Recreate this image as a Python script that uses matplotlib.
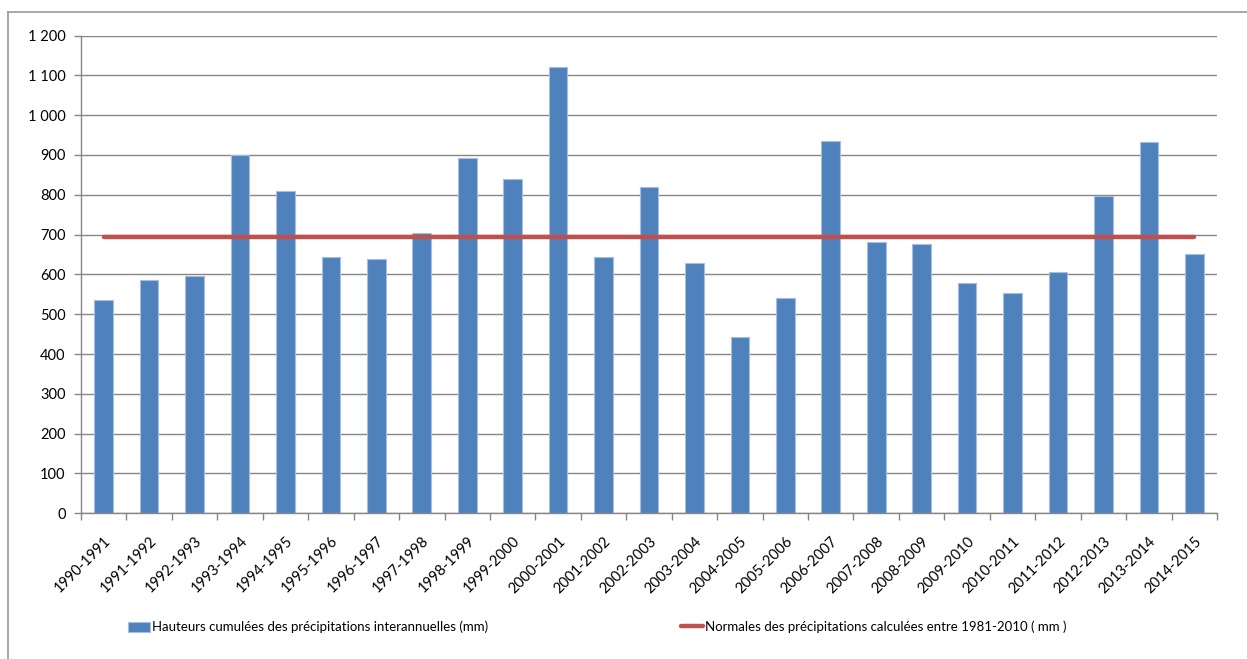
import matplotlib.pyplot as plt
from matplotlib.ticker import FuncFormatter, MultipleLocator
from matplotlib.lines import Line2D
import numpy as np

plt.rcParams['font.family'] = ['Lato', 'DejaVu Sans']

saisons = ['1990-1991', '1991-1992', '1992-1993', '1993-1994', '1994-1995',
           '1995-1996', '1996-1997', '1997-1998', '1998-1999', '1999-2000',
           '2000-2001', '2001-2002', '2002-2003', '2003-2004', '2004-2005',
           '2005-2006', '2006-2007', '2007-2008', '2008-2009', '2009-2010',
           '2010-2011', '2011-2012', '2012-2013', '2013-2014', '2014-2015']
hauteurs = [536, 586, 596, 900, 810, 644, 639, 705, 892, 839,
            1120, 643, 819, 628, 443, 541, 934, 682, 677, 579,
            553, 606, 796, 932, 652]
normale = [695] * len(saisons)

blue = '#4F81BD'
red = '#C0504D'
grey = '#868686'

fig = plt.figure(figsize=(12.47, 6.59), dpi=100)
ax = fig.add_axes([81 / 1247, 1 - 513.2 / 659, (1217 - 81) / 1247, (513.2 - 35.6) / 659])

x = np.arange(len(saisons))
barres = ax.bar(x, hauteurs, width=0.41, color=blue, edgecolor='#A7BFDE', linewidth=0.8, zorder=2)
ligne, = ax.plot(x, normale, color=red, linewidth=3.2, solid_capstyle='round', zorder=3)

ax.set_xlim(-0.5, len(saisons) - 0.5)
ax.set_ylim(0, 1200)
ax.yaxis.set_major_locator(MultipleLocator(100))
ax.yaxis.set_major_formatter(FuncFormatter(lambda v, p: f'{int(v):,}'.replace(',', ' ')))
ax.grid(axis='y', color=grey, linewidth=1.0, zorder=0)
ax.set_axisbelow(True)

ax.set_xticks(x)
ax.set_xticklabels(saisons, rotation=45, ha='right', rotation_mode='anchor')
ax.set_xticks(np.arange(-0.5, len(saisons)), minor=True)
ax.tick_params(axis='x', which='major', length=0, pad=15, labelsize=10.5)
ax.tick_params(axis='x', which='minor', length=5, color=grey, width=1)
ax.tick_params(axis='y', length=5, color=grey, width=1, labelsize=10.5, pad=6)

for s in ['top', 'right']:
    ax.spines[s].set_visible(False)
for s in ['left', 'bottom']:
    ax.spines[s].set_color(grey)
    ax.spines[s].set_linewidth(1.0)

fig.legend([barres, ligne],
           ['Hauteurs cumulées des précipitations interannuelles (mm)',
            'Normales des précipitations calculées entre 1981-2010 ( mm )'],
           loc='center', bbox_to_anchor=(0.479, 1 - 627 / 659), ncol=2,
           frameon=False, fontsize=9.5, handlelength=1.65, handleheight=0.8,
           handletextpad=0.15, columnspacing=14.6)

# cadre du graphique
fig.add_artist(Line2D([8 / 1247, 8 / 1247], [0, 1 - 12.3 / 659], color='#9A9A9A', linewidth=1.2,
                      transform=fig.transFigure))
fig.add_artist(Line2D([8 / 1247, 1], [1 - 12.3 / 659, 1 - 12.3 / 659], color='#9A9A9A', linewidth=1.2,
                      transform=fig.transFigure))

fig.savefig('out.png', dpi=100)
